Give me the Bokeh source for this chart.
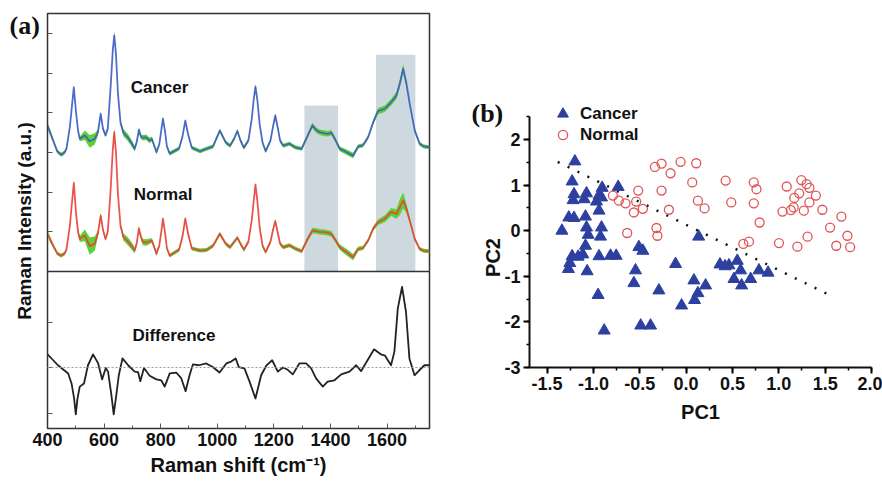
import math
from bokeh.plotting import figure
from bokeh.models import (Range1d, FixedTicker, SingleIntervalTicker, Span, Label,
                          Legend, LegendItem, NumeralTickFormatter, CustomJSTickFormatter)
from bokeh.embed import file_html
from bokeh.resources import INLINE
import numpy as np

# ---------------- Panel (a) data : Raman spectra (a.u.) ----------------
raman_shift = [400,420,435,449,460,467,479,486,493,501,
               508,514,532,549,567,578,588,596,605,613,
               623,631,636,642,649,658,668,684,700,708,
               715,723,730,737,749,761,769,785,795,802,
               808,815,822,832,865,877,887,897,910,939,
               962,985,1009,1030,1045,1060,1071,1082,1094,1110,
               1122,1129,1135,1142,1150,1160,1171,1188,1197,1205,
               1213,1222,1233,1255,1275,1298,1318,1336,1350,1362,
               1380,1392,1403,1415,1433,1456,1480,1498,1515,1533,
               1551,1568,1592,1615,1633,1645,1657,1668,1680,1698,
               1715,1730,1750]
cancer_mean = [2.68,2.30,2.02,1.94,2.00,2.09,2.64,3.14,3.64,3.00,
               2.55,2.34,2.43,2.28,2.34,2.50,2.97,2.60,2.43,2.60,
               3.64,4.60,4.95,4.48,3.48,2.75,2.50,2.38,2.20,2.09,
               2.25,2.57,2.40,2.37,2.38,2.30,2.34,2.01,2.20,2.55,
               2.85,2.55,2.15,1.97,2.10,2.40,2.80,2.45,2.12,2.03,
               2.09,2.15,2.55,2.25,2.17,2.35,2.54,2.30,2.12,2.30,
               2.85,3.35,3.66,3.30,2.70,2.25,2.03,2.30,2.65,2.93,
               2.65,2.30,2.17,2.22,2.13,2.09,2.40,2.68,2.56,2.51,
               2.48,2.47,2.50,2.35,2.09,2.01,1.92,2.15,2.18,2.38,
               2.76,3.04,3.10,3.27,3.43,3.73,4.11,3.75,3.23,2.55,
               2.22,2.15,2.13]
cancer_sd = [0.09,0.06,0.05,0.05,0.05,0.05,0.05,0.06,0.08,0.06,
             0.05,0.06,0.12,0.16,0.14,0.08,0.07,0.05,0.05,0.05,
             0.06,0.08,0.10,0.08,0.06,0.06,0.09,0.09,0.08,0.07,
             0.06,0.07,0.06,0.07,0.07,0.07,0.06,0.06,0.05,0.05,
             0.05,0.05,0.05,0.05,0.05,0.05,0.05,0.05,0.05,0.05,
             0.05,0.05,0.05,0.05,0.05,0.05,0.05,0.05,0.05,0.05,
             0.05,0.05,0.06,0.05,0.05,0.05,0.05,0.05,0.05,0.05,
             0.05,0.05,0.05,0.05,0.05,0.05,0.06,0.07,0.07,0.07,
             0.07,0.07,0.07,0.06,0.06,0.07,0.07,0.05,0.05,0.05,
             0.06,0.08,0.08,0.08,0.09,0.10,0.12,0.08,0.06,0.05,
             0.05,0.05,0.05]
normal_mean = [-0.05,-0.35,-0.55,-0.60,-0.55,-0.45,0.15,0.70,1.23,0.45,
               0.00,-0.18,-0.09,-0.36,-0.30,-0.05,0.41,0.05,-0.18,0.00,
               1.05,2.10,2.51,2.00,0.95,0.15,-0.13,-0.24,-0.38,-0.47,
               -0.30,0.08,-0.12,-0.26,-0.27,-0.24,-0.22,-0.55,-0.35,0.00,
               0.33,0.00,-0.42,-0.60,-0.45,-0.12,0.33,-0.05,-0.42,-0.47,
               -0.46,-0.35,-0.05,-0.30,-0.39,-0.25,-0.15,-0.30,-0.45,-0.25,
               0.30,0.80,1.19,0.75,0.10,-0.35,-0.51,-0.25,0.05,0.27,
               0.00,-0.30,-0.39,-0.34,-0.42,-0.49,-0.20,0.03,0.02,0.00,
               -0.01,-0.03,-0.05,-0.18,-0.39,-0.51,-0.64,-0.43,-0.41,-0.22,
               0.08,0.24,0.33,0.50,0.45,0.62,0.79,0.60,0.29,-0.18,
               -0.43,-0.48,-0.49]
normal_sd = [0.08,0.06,0.05,0.05,0.05,0.05,0.05,0.06,0.08,0.06,
             0.05,0.08,0.15,0.22,0.18,0.08,0.07,0.05,0.05,0.05,
             0.06,0.08,0.10,0.08,0.06,0.06,0.09,0.10,0.09,0.07,
             0.06,0.08,0.06,0.08,0.08,0.07,0.06,0.06,0.05,0.05,
             0.05,0.05,0.05,0.05,0.05,0.05,0.06,0.05,0.05,0.05,
             0.05,0.05,0.05,0.05,0.05,0.05,0.05,0.05,0.05,0.05,
             0.05,0.05,0.06,0.05,0.05,0.05,0.05,0.05,0.05,0.05,
             0.05,0.05,0.05,0.05,0.05,0.05,0.06,0.07,0.07,0.07,
             0.07,0.07,0.07,0.06,0.07,0.08,0.08,0.06,0.05,0.05,
             0.06,0.07,0.09,0.10,0.12,0.20,0.20,0.12,0.07,0.05,
             0.05,0.05,0.05]

diff_shift = [400,437,473,485,494,500,506,514,529,543,
              561,579,593,606,614,626,634,643,652,665,
              685,708,720,728,741,761,785,802,814,832,
              855,873,888,902,914,935,961,984,1008,1032,
              1049,1065,1076,1096,1114,1135,1155,1173,1194,1214,
              1232,1249,1267,1290,1314,1332,1349,1373,1390,1414,
              1438,1467,1491,1508,1531,1554,1578,1593,1614,1626,
              1638,1653,1667,1679,1697,1714,1732,1750]
diff_value = [0.29,0.05,-0.13,-0.35,-0.68,-1.03,-0.68,-0.42,-0.35,0.05,
              0.29,0.09,-0.26,-0.01,-0.09,-0.61,-1.03,-0.61,-0.17,0.20,
              0.05,-0.09,-0.10,-0.30,-0.01,-0.18,-0.26,-0.28,-0.42,-0.13,
              -0.11,-0.24,-0.52,-0.17,0.07,0.05,0.09,0.01,-0.11,0.09,
              0.13,0.20,0.01,-0.02,-0.31,-0.68,-0.17,0.04,0.16,-0.09,
              0.00,-0.05,-0.15,0.09,0.09,-0.02,-0.24,-0.42,-0.31,-0.28,
              -0.15,-0.09,0.05,-0.08,0.16,0.40,0.29,0.26,0.05,0.35,
              1.30,1.77,1.22,0.20,-0.17,-0.06,0.05,0.05]

band_left = [1308, 1561]
band_right = [1427, 1700]
band_top = [3.18, 4.46]

# ---------------- Panel (b) data : PCA scores ----------------
cancer_pc1 = [-1.20,-1.23,-1.21,-1.22,-1.10,-1.075,-0.906,-0.94,-0.967,-0.913,
              -0.733,-1.266,-1.21,-1.086,-0.94,-1.34,-1.075,-1.057,-0.913,-0.924,
              -1.086,-1.23,-1.165,-1.115,-1.255,-1.27,-1.068,-0.94,-0.816,-0.755,
              -0.95,-0.884,-0.51,-0.467,-0.546,-0.564,-0.294,-0.114,-0.049,-0.49,
              -0.384,0.084,0.135,0.21,0.127,0.091,0.365,0.462,0.552,0.588,
              0.516,0.599,0.696,0.786,0.884,0.42]
cancer_pc2 = [1.52,1.08,0.80,0.67,0.69,0.82,0.94,0.77,0.64,0.73,
              0.96,0.29,0.28,0.31,0.44,0.00,0.07,-0.09,0.07,-0.13,
              -0.33,-0.56,-0.57,-0.52,-0.71,-0.84,-0.89,-0.56,-0.55,-0.55,
              -1.41,-2.19,-0.36,-0.44,-0.87,-1.15,-1.31,-0.73,-1.64,-2.08,
              -2.08,-1.09,-0.13,-1.20,-1.37,-1.52,-0.74,-0.76,-0.66,-0.87,
              -1.06,-1.20,-1.06,-0.87,-0.92,-0.78]
normal_pc1 = [-0.337,-0.265,-0.06,0.109,-0.168,0.066,-0.517,-0.265,-0.79,-0.726,
              -0.654,-0.539,-0.564,-0.467,-0.186,-0.636,-0.32,-0.31,0.127,0.426,
              0.73,0.759,0.199,0.487,0.73,0.793,0.617,0.678,1.002,1.20,
              1.31,1.085,1.243,1.30,1.33,1.22,1.167,1.40,1.16,1.13,
              1.04,1.27,1.33,1.47,1.675,1.553,1.74,1.62,1.77]
normal_pc2 = [1.40,1.47,1.51,1.48,1.26,1.06,0.88,0.88,0.77,0.66,
              0.60,0.64,0.40,0.48,0.46,-0.05,0.06,-0.11,0.66,1.10,
              1.06,0.91,0.49,0.62,0.60,0.18,-0.29,-0.24,-0.27,-0.35,
              -0.13,0.97,1.11,1.02,0.94,0.82,0.72,0.77,0.51,0.45,
              0.42,0.44,0.62,0.46,0.31,0.07,-0.11,-0.33,-0.36]
boundary_pc1 = [-1.385, 1.517]
boundary_pc2 = [1.51, -1.38]

FONT = "Liberation Sans"
SERIF = "Liberation Serif"
INK = "#111111"

def place(left, top):
    return {"position": "absolute", "left": f"{left}px", "top": f"{top}px"}

# ======================= Panel (a) =======================
upper_rng = Range1d(-4.956, 5.5)
diff_rng = Range1d(-1.34, 7.78)
upper_floor = -1.0

pa = figure(width=440, height=484, x_range=Range1d(400, 1750), y_range=upper_rng,
            output_backend="svg", toolbar_location=None, styles=place(0, 0),
            min_border_left=47, min_border_right=11, min_border_top=13, min_border_bottom=56)
pa.extra_y_ranges = {"diff": diff_rng}
pa.xgrid.visible = False
pa.ygrid.visible = False
pa.outline_line_color = "#333333"
pa.outline_line_width = 1.5
pa.outline_line_alpha = 1.0

pa.quad(left=band_left, right=band_right, bottom=upper_floor, top=band_top,
        fill_color="#cdd9de", line_color=None)

cm = np.array(cancer_mean); cs = np.array(cancer_sd)
nm = np.array(normal_mean); ns = np.array(normal_sd)
pa.varea(x=raman_shift, y1=cm - cs, y2=cm + cs, fill_color="#5fd035")
pa.varea(x=raman_shift, y1=nm - ns, y2=nm + ns, fill_color="#5fd035")
pa.line(raman_shift, cancer_mean, line_color="#3a56cc", line_width=1.8, line_alpha=0.85,
        line_join="round")
pa.line(raman_shift, normal_mean, line_color="#f03a3a", line_width=1.8, line_alpha=0.85,
        line_join="round")

pa.add_layout(Span(location=0, dimension="width", y_range_name="diff",
                   line_color="#9a9a9a", line_dash="2 2", line_width=1))
pa.line(diff_shift, diff_value, y_range_name="diff", line_color="#222222",
        line_width=1.8, line_join="round")
pa.add_layout(Span(location=upper_floor, dimension="width",
                   line_color="#333333", line_width=1.5))

def diff_to_upper(d):
    return upper_rng.start + (d - diff_rng.start) * (upper_rng.end - upper_rng.start) / (diff_rng.end - diff_rng.start)

pa.yaxis.ticker = FixedTicker(ticks=[0, 1, 2, 3, 4, 5] + [diff_to_upper(d) for d in (-1, 0, 1)])
pa.yaxis.formatter = CustomJSTickFormatter(code="return ''")
pa.yaxis.major_tick_in = 5
pa.yaxis.major_tick_out = 0
pa.yaxis.minor_tick_line_color = None
pa.yaxis.major_tick_line_color = "#555555"
pa.yaxis.axis_line_color = "#333333"
pa.yaxis.axis_label = "Raman Intensity (a.u.)"
pa.yaxis.axis_label_text_font = FONT
pa.yaxis.axis_label_text_font_style = "bold"
pa.yaxis.axis_label_text_font_size = "19px"
pa.yaxis.axis_label_text_color = INK
pa.yaxis.axis_label_standoff = 13

pa.xaxis.ticker = SingleIntervalTicker(interval=200, num_minor_ticks=2)
pa.xaxis.major_tick_in = 5
pa.xaxis.major_tick_out = 0
pa.xaxis.minor_tick_in = 3
pa.xaxis.minor_tick_out = 0
pa.xaxis.major_tick_line_color = "#555555"
pa.xaxis.minor_tick_line_color = "#555555"
pa.xaxis.axis_line_color = "#333333"
pa.xaxis.major_label_text_font = FONT
pa.xaxis.major_label_text_font_style = "bold"
pa.xaxis.major_label_text_font_size = "18px"
pa.xaxis.major_label_text_color = INK
pa.xaxis.major_label_standoff = 4
pa.xaxis.axis_label = "Raman shift (cm\u207b\u00b9)"
pa.xaxis.axis_label_text_font = FONT
pa.xaxis.axis_label_text_font_style = "bold"
pa.xaxis.axis_label_text_font_size = "20px"
pa.xaxis.axis_label_text_color = INK
pa.xaxis.axis_label_standoff = 5

for txt, xx, yy, yr in (("Cancer", 694, 3.64, "default"), ("Normal", 705, 0.94, "default"),
                        ("Difference", 700, 0.70, "diff")):
    pa.add_layout(Label(x=xx, y=yy, y_range_name=yr, text=txt, text_font=FONT,
                        text_font_style="bold", text_font_size="17px",
                        text_baseline="middle", text_color=INK))

# ======================= Panel (b) =======================
pb = figure(width=442, height=484, x_range=Range1d(-1.69, 2.0), y_range=Range1d(-3, 2.9),
            output_backend="svg", toolbar_location=None, styles=place(440, 0),
            min_border_left=89, min_border_right=11, min_border_top=98, min_border_bottom=117)
pb.xgrid.visible = False
pb.ygrid.visible = False
pb.outline_line_color = None

pb.line(boundary_pc1, boundary_pc2, line_color=INK, line_width=2.5, line_dash="2 9")
tri = pb.scatter(cancer_pc1, cancer_pc2, marker="triangle", size=12,
                 fill_color="#2d40a0", line_color="#2d40a0")
cir = pb.scatter(normal_pc1, normal_pc2, marker="circle", size=9, fill_color=None,
                 line_color="#e05555", line_width=1.3)

for ax in (pb.xaxis, pb.yaxis):
    ax.axis_line_width = 2
    ax.axis_line_color = INK
    ax.major_tick_line_width = 2
    ax.minor_tick_line_width = 1.5
    ax.major_tick_in = 0
    ax.major_tick_out = 6
    ax.minor_tick_in = 0
    ax.minor_tick_out = 3
    ax.major_label_text_font = FONT
    ax.major_label_text_font_style = "bold"
    ax.major_label_text_font_size = "18px"
    ax.major_label_text_color = INK
    ax.axis_label_text_font = FONT
    ax.axis_label_text_font_style = "bold"
    ax.axis_label_text_font_size = "20px"
    ax.axis_label_text_color = INK
pb.xaxis.ticker = SingleIntervalTicker(interval=0.5, num_minor_ticks=2)
pb.xaxis.formatter = NumeralTickFormatter(format="0.0")
pb.yaxis.ticker = SingleIntervalTicker(interval=1, num_minor_ticks=2)
pb.yaxis.formatter = NumeralTickFormatter(format="0")
pb.yaxis.bounds = (-3, 2.5)
pb.xaxis.major_label_standoff = 3
pb.yaxis.major_label_standoff = 3
pb.xaxis.axis_label = "PC1"
pb.xaxis.axis_label_standoff = 8

legend_style = dict(padding=0, margin=0, spacing=0, border_line_color=None,
                    background_fill_alpha=0, label_text_font=FONT,
                    label_text_font_style="bold", label_text_font_size="17px",
                    label_text_color=INK)
pb.add_layout(Legend(items=[LegendItem(label="Cancer", renderers=[tri])],
                     location=(20, 240), glyph_height=27, glyph_width=27, label_height=27,
                     label_standoff=4, **legend_style))
pb.add_layout(Legend(items=[LegendItem(label="Normal", renderers=[cir])],
                     location=(22, 221), glyph_height=23, glyph_width=23, label_height=23,
                     label_standoff=6, **legend_style))

# ============ transparent overlay for texts lying outside the frames ============
ov = figure(width=882, height=484, x_range=Range1d(0, 882), y_range=Range1d(484, 0),
            x_axis_type=None, y_axis_type=None, output_backend="svg",
            toolbar_location=None, min_border=0, styles=place(0, 0))
ov.xgrid.visible = False
ov.ygrid.visible = False
ov.outline_line_color = None
ov.background_fill_color = None
ov.border_fill_color = None
ov.add_layout(Label(x=9, y=25, text="(a)", text_font=SERIF, text_font_style="bold",
                    text_font_size="26px", text_baseline="middle", text_color=INK))
ov.add_layout(Label(x=471, y=113, text="(b)", text_font=SERIF, text_font_style="bold",
                    text_font_size="26px", text_baseline="middle", text_color=INK))
ov.add_layout(Label(x=492, y=257, text="PC2", angle=math.pi / 2, text_font=FONT,
                    text_font_style="bold", text_font_size="20px", text_align="center",
                    text_baseline="middle", text_color=INK))

open("out.html", "w").write(file_html([pa, pb, ov], INLINE))
